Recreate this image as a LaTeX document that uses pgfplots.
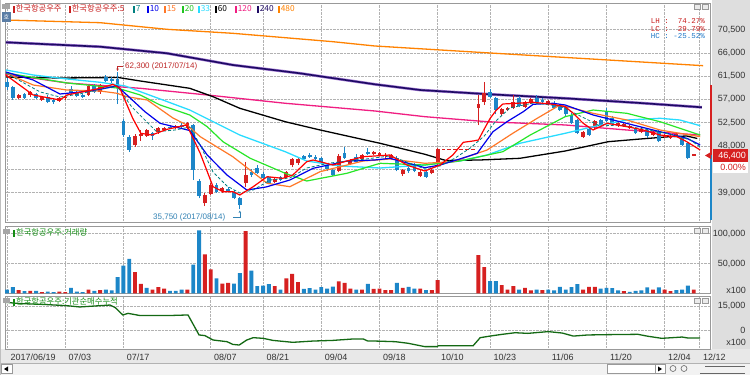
\documentclass[border=0pt]{standalone}
\usepackage{pgfplots}
\pgfplotsset{compat=1.18}
\usetikzlibrary{arrows.meta}
\usepackage{fontspec}
\setmainfont{Liberation Sans}
\newfontfamily\kr{Noto Sans CJK KR}
\newfontfamily\mono{Liberation Mono}
\definecolor{upred}{RGB}{214,32,32}
\definecolor{dnblue}{RGB}{28,134,200}
\definecolor{mafive}{RGB}{255,0,0}
\definecolor{maseven}{RGB}{0,128,128}
\definecolor{maten}{RGB}{0,0,235}
\definecolor{mafifteen}{RGB}{255,120,40}
\definecolor{matwenty}{RGB}{40,230,40}
\definecolor{mathirty}{RGB}{40,220,255}
\definecolor{maonetwenty}{RGB}{240,30,130}
\definecolor{matwoforty}{RGB}{30,10,100}
\definecolor{matwofortyshade}{RGB}{160,120,210}
\definecolor{mafoureighty}{RGB}{255,130,0}
\definecolor{cumgreen}{RGB}{20,105,20}
\definecolor{hdrgreen}{RGB}{20,140,20}
\definecolor{sidegray}{RGB}{222,222,222}
\definecolor{annred}{RGB}{190,40,40}
\definecolor{annblue}{RGB}{50,130,180}
\definecolor{lblred}{RGB}{200,30,30}
\definecolor{lblblue}{RGB}{30,120,200}
\definecolor{hobox}{RGB}{90,125,165}

\pgfplotsset{
  panel/.style={scale only axis, anchor=south west, xmin=-0.3436, xmax=120.79,
    xtick={0,10,20,35,44,54,64,74,83,93,103,113,119},
    xmajorgrids, ymajorgrids,
    grid style={densely dotted, black!30, line width=0.5pt},
    major tick length=0pt,
    axis line style={black!40},
    scaled y ticks=false, scaled x ticks=false,
    yticklabel pos=right,
    yticklabel style={font=\fontsize{9}{9}\selectfont, text=black!80, anchor=east, xshift=39pt},
    /pgf/number format/assume math mode=true,
  },
  wick/.style={line width=0.9pt, unbounded coords=jump, line cap=butt},
  body/.style={line width=3.8pt, unbounded coords=jump, line cap=butt},
}

\newcommand{\leg}[3]{%
  \fill[#2] (#1pt,361.5pt) rectangle ++(1.6pt,7pt);
  \node[anchor=base west, inner sep=0pt, text=#2, font=\kr\fontsize{8.3}{9}\selectfont] at (#1pt+2.6pt,363.2pt) {#3};}

\begin{document}
\begin{tikzpicture}
\fill[white] (0,0) rectangle (750pt,375pt);
\fill[sidegray] (711.5pt,12pt) rectangle (750pt,375pt);
\fill[black!9] (0pt,12pt) rectangle (750pt,26pt);
\fill[black!5] (0pt,0pt) rectangle (750pt,12pt);
\draw[black!30] (0pt,12pt) -- (750pt,12pt);

%================ PRICE PANEL ================
\begin{axis}[panel, at={(5pt,153pt)}, width=705pt, height=219pt,
  ymin=33324, ymax=75613,
  ytick={39000,43500,48000,52500,57000,61500,66000,70500},
  yticklabels={{39,000},{43,500},{48,000},{52,500},{57,000},{61,500},{66,000},{70,500}},
  xticklabels={}]
% long moving averages
\addplot[mafoureighty, line width=1.3pt] coordinates {(-0.3,72330) (16.0,71810) (27.5,70530) (38.8,69760) (56.0,68140) (63.2,67310) (82.1,66020) (101.9,64700) (119.6,63510)};
\addplot[matwofortyshade, line width=2.8pt] coordinates {(-0.2,68020) (16.0,67170) (27.5,65900) (38.8,63640) (50.3,62040) (63.2,59910) (71.0,58810) (83.0,57980) (95.9,57210) (108.8,56300) (119.4,55470)};
\addplot[matwoforty, line width=1.6pt] coordinates {(-0.2,68020) (16.0,67170) (27.5,65900) (38.8,63640) (50.3,62040) (63.2,59910) (71.0,58810) (83.0,57980) (95.9,57210) (108.8,56300) (119.4,55470)};
\addplot[maonetwenty, line width=1.3pt] coordinates {(-0.3,61900) (10.3,60170) (22.9,59140) (34.4,57850) (47.8,56250) (63.2,54760) (71.8,53660) (82.5,52690) (95.9,52060) (106.5,51090) (119.1,50120)};
\addplot[black, line width=1.3pt] coordinates {(-0.2,61320) (9.1,61130) (19.1,61230) (22.9,60550) (31.4,59140) (35.4,57520) (40.0,55280) (47.8,52690) (53.8,51090) (64.1,48520) (71.8,46400) (75.4,45200) (81.3,45300) (88.1,45620) (95.9,47030) (103.3,48830) (108.8,49350) (113.9,49800) (116.8,49930) (118.6,49450)};
% candles: red (up)
\addplot[upred, wick] coordinates {
(2,57000)(2,58100)(2,nan) (4,57500)(4,58600)(4,nan) (6,56700)(6,57700)(6,nan) (9,56500)(9,57400)(9,nan)
(10,56900)(10,57700)(10,nan) (14,57600)(14,59800)(14,nan) (16,58100)(16,60000)(16,nan) (22,47900)(22,50300)(22,nan)
(23,49000)(23,51000)(23,nan) (24,49800)(24,51300)(24,nan) (26,50400)(26,51700)(26,nan) (27,50900)(27,51700)(27,nan)
(29,51200)(29,52000)(29,nan) (31,51300)(31,52600)(31,nan) (34,36400)(34,38900)(34,nan) (35,38500)(35,40850)(35,nan)
(37,39000)(37,40100)(37,nan) (41,40000)(41,44970)(41,nan) (46,40800)(46,42000)(46,nan) (48,41800)(48,43200)(48,nan)
(49,43900)(49,45700)(49,nan) (50,44400)(50,45900)(50,nan) (57,42900)(57,46500)(57,nan) (59,44300)(59,45500)(59,nan)
(61,45200)(61,46400)(61,nan) (63,46200)(63,47100)(63,nan) (64,46000)(64,46900)(64,nan) (65,45700)(65,46600)(65,nan)
(66,45500)(66,46500)(66,nan) (68,42200)(68,43600)(68,nan) (71,42000)(71,43300)(71,nan) (73,42500)(73,43600)(73,nan)
(74,44300)(74,47600)(74,nan) (81,52050)(81,57850)(81,nan) (82,56000)(82,60400)(82,nan) (85,53800)(85,55300)(85,nan)
(86,54700)(86,55600)(86,nan) (87,55200)(87,57850)(87,nan) (89,55300)(89,56700)(89,nan) (90,56200)(90,57300)(90,nan)
(93,55900)(93,56900)(93,nan) (99,49500)(99,50900)(99,nan) (101,51300)(101,53100)(101,nan) (105,51700)(105,52700)(105,nan)
(106,51700)(106,52400)(106,nan) (107,51300)(107,52100)(107,nan) (109,50500)(109,51600)(109,nan) (111,49900)(111,50900)(111,nan)
(113,49500)(113,50400)(113,nan) (114,49400)(114,50300)(114,nan) (115,49800)(115,50600)(115,nan) (118,46000)(118,46500)(118,nan)};
\addplot[upred, body] coordinates {
(2,57300)(2,57850)(2,nan) (4,57800)(4,58350)(4,nan) (6,56950)(6,57450)(6,nan) (9,56700)(9,57200)(9,nan)
(10,57200)(10,57500)(10,nan) (14,57800)(14,59600)(14,nan) (16,58400)(16,59800)(16,nan) (22,48190)(22,49930)(22,nan)
(23,49900)(23,50300)(23,nan) (24,50000)(24,51100)(24,nan) (26,50650)(26,51530)(26,nan) (27,51100)(27,51500)(27,nan)
(29,51400)(29,51800)(29,nan) (31,51440)(31,52380)(31,nan) (34,36930)(34,38540)(34,nan) (35,38730)(35,40470)(35,nan)
(37,39370)(37,39890)(37,nan) (41,40800)(41,42400)(41,nan) (46,41000)(46,41700)(46,nan) (48,42070)(48,43030)(48,nan)
(49,44270)(49,45490)(49,nan) (50,44650)(50,45490)(50,nan) (57,43200)(57,46100)(57,nan) (59,44460)(59,45100)(59,nan)
(61,45400)(61,46200)(61,nan) (63,46450)(63,46800)(63,nan) (64,46300)(64,46700)(64,nan) (65,46000)(65,46300)(65,nan)
(66,45700)(66,46200)(66,nan) (68,42530)(68,43370)(68,nan) (71,42200)(71,43000)(71,nan) (73,42700)(73,43370)(73,nan)
(74,44660)(74,47360)(74,nan) (75,47300)(75,47420)(75,nan) (76,47300)(76,47420)(76,nan) (77,47300)(77,47420)(77,nan)
(78,47300)(78,47420)(78,nan) (79,47300)(79,47420)(79,nan) (80,47300)(80,47420)(80,nan)
(81,55340)(81,56100)(81,nan) (82,56550)(82,58180)(82,nan) (85,54120)(85,55150)(85,nan)
(86,54950)(86,55400)(86,nan) (87,55400)(87,56440)(87,nan) (89,55600)(89,56440)(89,nan) (90,56440)(90,57080)(90,nan)
(93,56100)(93,56600)(93,nan) (99,49800)(99,50700)(99,nan) (101,51600)(101,52880)(101,nan) (105,52000)(105,52400)(105,nan)
(106,51900)(106,52200)(106,nan) (107,51500)(107,51900)(107,nan) (109,50700)(109,51300)(109,nan) (111,50100)(111,50700)(111,nan)
(113,49700)(113,50100)(113,nan) (114,49600)(114,50000)(114,nan) (115,50000)(115,50400)(115,nan) (118,46100)(118,46400)(118,nan)};
% candles: blue (down)
\addplot[dnblue, wick] coordinates {
(0,58900)(0,61100)(0,nan) (1,56900)(1,59600)(1,nan) (3,57100)(3,58300)(3,nan) (5,57000)(5,58300)(5,nan)
(7,56300)(7,57800)(7,nan) (8,56200)(8,57100)(8,nan) (11,57900)(11,59500)(11,nan) (12,57400)(12,58800)(12,nan)
(13,57300)(13,58100)(13,nan) (15,58300)(15,59900)(15,nan) (17,60300)(17,61700)(17,nan) (18,60200)(18,61300)(18,nan)
(19,56100)(19,62300)(19,nan) (20,49800)(20,53300)(20,nan) (21,46800)(21,50100)(21,nan) (25,49200)(25,50700)(25,nan)
(28,51200)(28,52000)(28,nan) (30,51500)(30,52400)(30,nan) (32,41400)(32,52200)(32,nan) (33,37900)(33,41600)(33,nan)
(36,38900)(36,40900)(36,nan) (38,39100)(38,40000)(38,nan) (39,37700)(39,39500)(39,nan) (40,35750)(40,38100)(40,nan)
(42,42000)(42,43500)(42,nan) (43,42600)(43,44300)(43,nan) (44,41500)(44,42900)(44,nan) (45,40600)(45,42300)(45,nan)
(47,41300)(47,42300)(47,nan) (51,45300)(51,46300)(51,nan) (52,45700)(52,46600)(52,nan) (53,45200)(53,46300)(53,nan)
(54,44800)(54,45900)(54,nan) (55,43200)(55,44600)(55,nan) (56,42200)(56,43800)(56,nan) (58,45500)(58,47900)(58,nan)
(60,44800)(60,46400)(60,nan) (62,46200)(62,47600)(62,nan) (67,43100)(67,46000)(67,nan) (69,42800)(69,44100)(69,nan)
(70,42900)(70,44700)(70,nan) (72,41800)(72,43300)(72,nan) (83,57200)(83,59000)(83,nan) (84,54100)(84,57500)(84,nan)
(88,55500)(88,57600)(88,nan) (91,56400)(91,57850)(91,nan) (92,56300)(92,57300)(92,nan) (94,55200)(94,56700)(94,nan)
(95,54800)(95,56200)(95,nan) (96,53800)(96,55800)(96,nan) (97,52200)(97,54400)(97,nan) (98,50300)(98,53300)(98,nan)
(100,49900)(100,51600)(100,nan) (102,51900)(102,53300)(102,nan) (103,52600)(103,55400)(103,nan) (104,51900)(104,53700)(104,nan)
(108,50300)(108,51700)(108,nan) (110,49500)(110,51200)(110,nan) (112,48700)(112,51000)(112,nan) (116,48000)(116,49800)(116,nan)
(117,45400)(117,48800)(117,nan)};
\addplot[dnblue, body] coordinates {
(0,59400)(0,60400)(0,nan) (1,57300)(1,59400)(1,nan) (3,57300)(3,58000)(3,nan) (5,57200)(5,58000)(5,nan)
(7,56550)(7,57500)(7,nan) (8,56450)(8,56900)(8,nan) (11,58200)(11,59100)(11,nan) (12,57650)(12,58500)(12,nan)
(13,57500)(13,57900)(13,nan) (15,58500)(15,59600)(15,nan) (17,60500)(17,61300)(17,nan) (18,60600)(18,61000)(18,nan)
(19,59150)(19,61000)(19,nan) (20,50120)(20,52900)(20,nan) (21,47230)(21,49800)(21,nan) (25,50000)(25,50500)(25,nan)
(28,51400)(28,51700)(28,nan) (30,51700)(30,52100)(30,nan) (32,43370)(32,52000)(32,nan) (33,38300)(33,41300)(33,nan)
(36,39180)(36,40470)(36,nan) (38,39300)(38,39700)(38,nan) (39,37900)(39,39180)(39,nan) (40,36600)(40,37900)(40,nan)
(42,42400)(42,43030)(42,nan) (43,42800)(43,43750)(43,nan) (44,41800)(44,42600)(44,nan) (45,40900)(45,42070)(45,nan)
(47,41500)(47,42000)(47,nan) (51,45500)(51,46000)(51,nan) (52,45880)(52,46260)(52,nan) (53,45400)(53,45900)(53,nan)
(54,45000)(54,45600)(54,nan) (55,43500)(55,44300)(55,nan) (56,42450)(56,43400)(56,nan) (58,45700)(58,46650)(58,nan)
(60,44970)(60,45940)(60,nan) (62,46450)(62,46840)(62,nan) (67,43370)(67,45620)(67,nan) (69,43100)(69,43800)(69,nan)
(70,43170)(70,44330)(70,nan) (72,42070)(72,43000)(72,nan) (83,57520)(83,58500)(83,nan) (84,54950)(84,57200)(84,nan)
(88,55800)(88,57330)(88,nan) (91,56570)(91,57330)(91,nan) (92,56500)(92,56880)(92,nan) (94,55340)(94,56300)(94,nan)
(95,54950)(95,55900)(95,nan) (96,54200)(96,55500)(96,nan) (97,52400)(97,54000)(97,nan) (98,50500)(98,53000)(98,nan)
(100,50100)(100,51200)(100,nan) (102,52100)(102,53000)(102,nan) (103,52880)(103,54700)(103,nan) (104,52300)(104,53400)(104,nan)
(108,50450)(108,51400)(108,nan) (110,49900)(110,51000)(110,nan) (112,48900)(112,50800)(112,nan) (116,48200)(116,49500)(116,nan)
(117,45620)(117,48500)(117,nan)};
% short moving averages
\addplot[mathirty, line width=1.3pt] coordinates {(-0.2,62680) (4.5,61710) (10.3,60940) (16.0,60300) (20.3,59590) (22.9,58490) (26.3,57080) (31.4,54950) (40.0,50120) (47.8,46900) (51.5,45100) (57.2,44140) (64.1,43750) (71.8,44330) (77.8,45100) (82.5,46260) (88.1,48520) (95.9,50450) (100.7,51730) (106.5,53020) (112.2,53350) (115.6,53020) (119.1,51920)};
\addplot[matwenty, line width=1.2pt] coordinates {(-0.2,62100) (10.3,60170) (18.9,59200) (22.9,57850) (26.3,55920) (31.4,53990) (34.4,51730) (37.1,48830) (41.8,45620) (47.8,42730) (51.5,41240) (58.4,42730) (64.1,44660) (71.8,44330) (77.8,45100) (85.2,46900) (89.9,50120) (95.9,53660) (100.7,54950) (106.5,54310) (112.2,52690) (119.1,50120)};
\addplot[mafifteen, line width=1.2pt] coordinates {(-0.2,62040) (4.5,59780) (10.3,58810) (16.0,58620) (18.9,58180) (20.6,57520) (24.1,56880) (28.5,53410) (30.9,52060) (33.2,49800) (38.8,45930) (44.7,40800) (48.6,40140) (53.8,43040) (61.2,45100) (65.8,45490) (71.8,44660) (76.6,44970) (82.5,47230) (86.9,50450) (91.1,53350) (95.0,55920) (100.7,54310) (106.5,53020) (112.2,51090) (119.1,49800)};
\addplot[maten, line width=1.2pt] coordinates {(-0.2,62290) (4.5,60745) (9.1,58040) (10.8,58230) (13.1,58490) (16.0,58950) (18.9,59590) (20.6,57850) (23.7,54620) (26.3,52380) (31.4,50990) (34.4,46260) (37.8,42400) (41.2,39500) (44.5,40080) (48.6,41430) (52.6,43690) (58.4,45100) (63.2,45300) (65.8,45620) (71.8,43810) (74.4,44330) (77.8,45490) (80.8,46590) (83.5,50760) (85.9,52690) (88.7,54620) (90.4,56050) (93.8,56250) (95.9,55920) (100.7,53990) (105.3,52690) (112.2,50760) (116.8,49490) (119.1,48190)};
\addplot[maseven, line width=0.8pt, densely dashed] coordinates {(-0.2,62100) (5.7,58430) (9.1,57460) (12.5,58040) (16.0,59010) (18.9,59590) (21.4,55590) (25.7,50760) (28.9,51090) (31.4,51670) (33.2,48190) (35.4,42980) (37.8,40280) (40.0,38920) (42.3,39500) (45.2,41430) (48.6,41820) (51.5,43750) (55.5,44720) (58.9,45100) (65.8,46070) (68.7,44910) (71.8,43560) (74.4,44140) (77.0,45680) (79.6,47610) (82.0,49930) (84.0,52830) (86.4,55340) (90.4,56300) (95.0,55720) (98.5,53790) (101.9,51860) (105.3,52060) (109.3,51280) (113.9,50320) (117.4,49160) (119.1,47810)};
\addplot[mafive, line width=1.2pt] coordinates {(-0.2,61710) (4.5,57850) (9.1,56880) (10.3,57850) (16.0,59140) (18.2,59910) (19.4,59140) (21.6,53350) (23.0,50450) (24.9,50120) (27.5,51220) (30.9,52060) (33.2,46590) (35.4,40140) (37.1,39180) (38.8,39180) (40.0,38540) (42.3,40140) (44.7,42070) (47.4,41760) (49.1,42400) (51.5,44970) (52.6,45300) (56.0,44330) (58.4,45100) (61.2,45930) (65.8,46260) (68.7,44330) (71.8,43170) (74.4,44330) (76.6,46260) (78.4,48710) (80.1,48970) (81.0,49160) (82.0,51280) (83.0,53310) (84.0,54820) (85.2,56110) (87.6,56250) (90.4,56440) (93.8,56050) (95.9,55590) (97.3,54310) (99.0,52380) (100.7,51090) (103.1,52380) (106.5,51730) (109.3,51090) (112.2,50120) (115.1,49800) (116.8,48830) (119.1,47230)};
\end{axis}

%================ VOLUME PANEL ================
\begin{axis}[panel, at={(5pt,81.5pt)}, width=705pt, height=67.5pt,
  ymin=0, ymax=112500, ytick={50000,100000},
  yticklabels={{50,000},{100,000}}, xticklabels={}]
\addplot[ybar, bar width=3.9pt, bar shift=0pt, fill=upred, draw=none] coordinates {
(2,5500) (4,4400) (6,2200) (9,3300) (10,2200) (14,6600) (16,5500) (22,35500) (23,16100) (25,6600) (26,10500) (27,8300) (31,6600)
(34,65000) (35,40000) (37,16600) (38,17800) (41,103800) (46,12200) (48,25000) (49,32700) (50,18900) (57,20000) (58,17800) (59,8300)
(61,6600) (63,7800) (64,8300) (65,5500) (66,5500) (68,9400) (71,8300) (73,5500) (74,22200) (81,64000) (82,43800) (85,13900)
(86,6600) (87,12200) (89,9400) (90,5000) (92,5500) (99,6600) (100,11100) (101,11100) (106,3900) (111,6600) (113,6600) (114,3900) (118,6600)};
\addplot[ybar, bar width=3.9pt, bar shift=0pt, fill=dnblue, draw=none] coordinates {
(0,6660) (1,10500) (3,3900) (5,4400) (7,3300) (8,2200) (11,9400) (12,3300) (13,2200) (15,4400) (17,6600) (18,5000) (19,27200)
(20,46600) (21,57700) (24,9400) (28,4400) (29,4400) (30,6600) (32,48300) (33,105400) (36,25000) (39,16600) (40,33900) (42,38300)
(43,12200) (44,13300) (45,15500) (47,6600) (51,7800) (52,8900) (53,6600) (54,10500) (55,8300) (56,11600) (60,6600) (62,16100)
(67,17800) (69,11100) (70,8300) (72,5500) (83,20500) (84,20500) (88,6600) (91,6600) (93,6600) (94,5000) (95,11100) (96,6600)
(97,10500) (98,15500) (102,8300) (103,9400) (104,8900) (105,5000) (107,2800) (108,4400) (109,5000) (110,10000) (112,10000)
(115,5500) (116,6600) (117,13300)};
\end{axis}

%================ INSTITUTIONAL NET BUY (CUMULATIVE) ================
\begin{axis}[panel, at={(5pt,26pt)}, width=705pt, height=53pt,
  ymin=-11875, ymax=21250, ytick={0,15000}, yticklabels={0,{15,000}},
  xticklabels={2017/06/19,07/03,07/17,08/07,08/21,09/04,09/18,10/10,10/23,11/06,11/20,12/04,12/12},
  xticklabel style={font=\fontsize{9}{9}\selectfont, text=black!80, anchor=west, yshift=-8pt}]
\addplot[cumgreen, line width=1.3pt] coordinates {(-0.2,17300) (2.2,16500) (6.2,16000) (10.3,15200) (12.5,14400) (17.7,15600) (18.6,14000) (19.9,9400) (20.8,10400) (22.9,9000) (27.5,9000) (31.1,9400) (33.0,-3100) (34.0,-3500) (35.4,-6250) (37.8,-7300) (38.8,-9000) (39.9,-9400) (41.2,-6250) (42.3,-4800) (44.0,-5200) (45.7,-6500) (49.1,-7700) (52.6,-6900) (56.0,-6500) (59.5,-5600) (61.2,-5600) (62.0,-6900) (63.2,-6900) (66.7,-7300) (68.9,-8300) (71.8,-10400) (73.9,-10400) (74.1,-9800) (80.1,-9800) (81.3,-4800) (83.0,-3800) (85.1,-2700) (87.3,-1700) (89.5,-2100) (93.0,-1000) (95.4,-1900) (97.3,-3800) (99.8,-3100) (103.3,-2900) (108.4,-2700) (110.1,-3900) (112.5,-5200) (114.3,-4800) (116.0,-4400) (117.0,-5000) (119.1,-5000)};
\end{axis}

%================ DECORATIONS ================
% legend row
\fill[black!35] (2pt,366pt) rectangle (10pt,371pt);
\fill[hobox] (2pt,353pt) rectangle (11pt,363pt);
\node[inner sep=0pt, text=white, font=\kr\fontsize{6}{6}\selectfont] at (6.5pt,358pt) {호};
\leg{13}{lblred}{한국항공우주}
\leg{69}{lblred}{한국항공우주:5}
\leg{133}{maseven}{7}
\leg{147}{maten}{10}
\leg{164}{mafifteen}{15}
\leg{182}{matwenty!85!black}{20}
\leg{198}{mathirty}{33}
\leg{215}{black}{60}
\leg{235}{maonetwenty}{120}
\leg{257}{matwoforty}{240}
\leg{278}{mafoureighty}{480}
% panel headers
\fill[black!35] (3pt,141pt) rectangle (10pt,146pt);
\fill[hdrgreen] (13pt,137.5pt) rectangle ++(1.6pt,7pt);
\node[anchor=base west, inner sep=0pt, text=hdrgreen, font=\kr\fontsize{8.3}{9}\selectfont] at (16pt,139.3pt) {한국항공우주:거래량};
\fill[black!35] (3pt,72pt) rectangle (10pt,77pt);
\fill[hdrgreen] (13pt,68.5pt) rectangle ++(1.6pt,7pt);
\node[anchor=base west, inner sep=0pt, text=hdrgreen, font=\kr\fontsize{8.3}{9}\selectfont] at (16pt,70.3pt) {한국항공우주:기관순매수누적};
% panel corner icons
\foreach \yy in {365.5,142,72}{
  \draw[black!40, fill=black!8] (694pt,\yy pt) rectangle ++(6pt,5pt);
  \draw[black!40, fill=black!8] (702pt,\yy pt) rectangle ++(6pt,5pt);}
% high / low annotations
\node[anchor=west, inner sep=0pt, text=annred, font=\fontsize{8}{8}\selectfont] at (125pt,309pt) {62,300 (2017/07/14)};
\draw[annred, line width=0.6pt, -{Stealth[length=2.5pt,width=2.5pt]}] (123pt,309pt) -- (117.6pt,309pt) -- (117.6pt,304pt);
\node[anchor=west, inner sep=0pt, text=annblue, font=\fontsize{8}{8}\selectfont] at (153pt,158pt) {35,750 (2017/08/14)};
\draw[annblue, line width=0.6pt, -{Stealth[length=2.5pt,width=2.5pt]}] (233pt,158pt) -- (239.8pt,158pt) -- (239.8pt,164.5pt);
% LH / LC / HC
\node[anchor=east, inner sep=0pt, text=lblred, font=\mono\fontsize{7.5}{7.5}\selectfont] at (705pt,353.5pt) {LH :\ \ 74.27\%};
\node[anchor=east, inner sep=0pt, text=lblred, font=\mono\fontsize{7.5}{7.5}\selectfont] at (705pt,346pt) {LC :\ \ 29.79\%};
\node[anchor=east, inner sep=0pt, text=lblblue, font=\mono\fontsize{7.5}{7.5}\selectfont] at (705pt,338.5pt) {HC : -25.52\%};
% current price marker
\draw[upred, line width=1.8pt] (711.3pt,290pt) -- (711.3pt,220pt);
\draw[dnblue, line width=1.8pt] (711.3pt,220pt) -- (711.3pt,155pt);
\fill[upred] (705pt,219.5pt) -- (711pt,223pt) -- (711pt,216pt) -- cycle;
\fill[upred] (713pt,213pt) rectangle (748pt,226pt);
\node[anchor=east, inner sep=0pt, text=white, font=\fontsize{9}{9}\selectfont] at (746pt,219.5pt) {46,400};
\fill[white] (713pt,202pt) rectangle (748pt,213pt);
\node[anchor=east, inner sep=0pt, text=upred, font=\fontsize{9}{9}\selectfont] at (746pt,207.5pt) {0.00\%};
% unit labels
\node[anchor=east, inner sep=0pt, text=black!80, font=\fontsize{9}{9}\selectfont] at (746pt,85pt) {x100};
\node[anchor=east, inner sep=0pt, text=black!80, font=\fontsize{9}{9}\selectfont] at (746pt,33pt) {x100};
% bottom scroll strip
\draw[black!40, fill=white] (1pt,1.5pt) rectangle (12pt,10.5pt);
\fill[black] (4pt,6pt) -- (8pt,8.5pt) -- (8pt,3.5pt) -- cycle;
\draw[black!40, fill=white] (607pt,1.5pt) rectangle (655pt,10.5pt);
\draw[black!40, fill=white] (655pt,1.5pt) rectangle (665pt,10.5pt);
\fill[black] (658pt,3.5pt) -- (662pt,6pt) -- (658pt,8.5pt) -- cycle;
\draw[black!60, line width=0.6pt] (673pt,6.5pt) circle (3pt);
\draw[black!60, line width=0.6pt] (684pt,6.5pt) circle (3pt);
\draw[black!60, line width=0.6pt] (700pt,2pt) -- (745pt,2pt);
\draw[black!60, line width=0.6pt] (705pt,9pt) -- (745pt,9pt);
\draw[black!25] (0.4pt,0pt) -- (0.4pt,375pt);
\pgfresetboundingbox
\useasboundingbox (0,0) rectangle (750pt,375pt);
\end{tikzpicture}
\end{document}
